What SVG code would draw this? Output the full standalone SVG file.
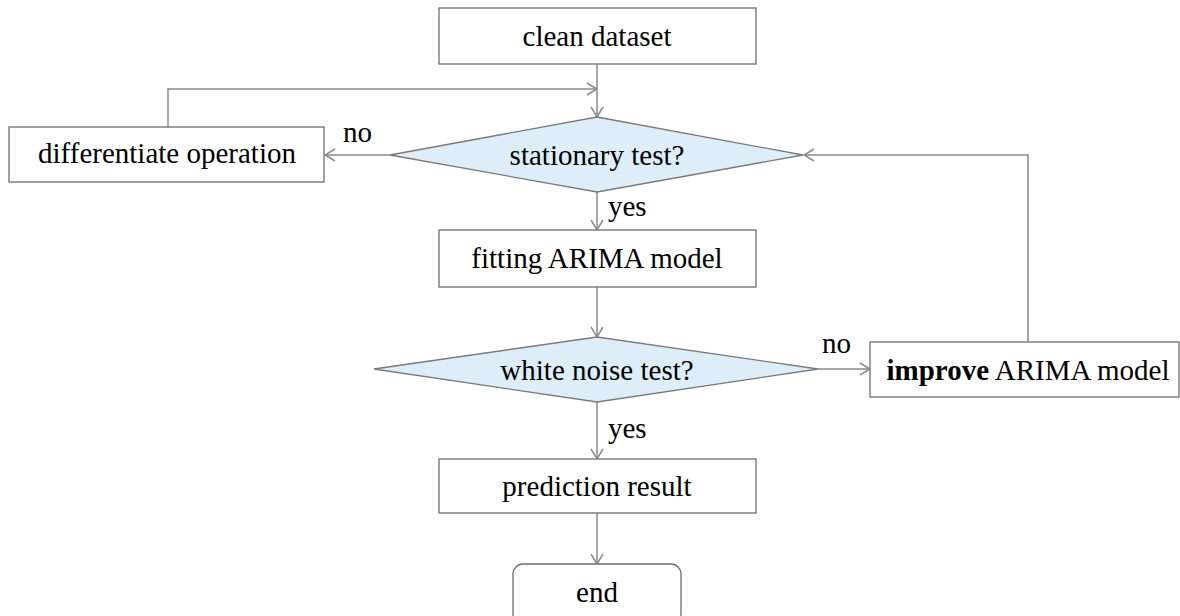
<svg xmlns="http://www.w3.org/2000/svg" width="1180" height="616" viewBox="0 0 1180 616">
<defs>
<style>
.box{fill:#fff;stroke:#6e6e6e;stroke-width:1.3}
.dia{fill:#deeef9;stroke:#7a7a7a;stroke-width:1.3}
.t{font-family:"Liberation Serif","Times New Roman",serif;font-size:29px;fill:#000;text-anchor:middle}
.lbl{font-family:"Liberation Serif","Times New Roman",serif;font-size:29px;fill:#000}
.c{fill:none;stroke:#8a8a8a;stroke-width:1.5;marker-end:url(#arr)}
.cn{fill:none;stroke:#8a8a8a;stroke-width:1.5}
</style>
<marker id="arr" markerWidth="12" markerHeight="14" refX="11" refY="7" orient="auto" markerUnits="userSpaceOnUse">
<path d="M1,1 L11,7 L1,13" fill="none" stroke="#8a8a8a" stroke-width="1.5"/>
</marker>
</defs>
<rect width="1180" height="616" fill="#fff"/>
<g id="connectors">
<path class="c" d="M597,64 V117"/>
<path class="c" d="M168,127 V89 H597"/>
<path class="c" d="M390,155 H325"/>
<path class="c" d="M1028,342 V155 H804"/>
<path class="c" d="M597,192 V230"/>
<path class="c" d="M597,287 V337"/>
<path class="c" d="M818,369 H870"/>
<path class="c" d="M597,402 V459"/>
<path class="c" d="M597,513 V564"/>
</g>
<g id="labels">
<text class="lbl" x="343" y="142">no</text>
<text class="lbl" x="608" y="216">yes</text>
<text class="lbl" x="822" y="353">no</text>
<text class="lbl" x="608" y="438">yes</text>
</g>
<g id="clean">
<rect class="box" x="439" y="8" width="317" height="56"/>
<text class="t" x="597" y="46">clean dataset</text>
</g>
<g id="stationary">
<polygon class="dia" points="597,117 803,155 597,192 390,155"/>
<text class="t" x="597" y="165">stationary test?</text>
</g>
<g id="differentiate">
<rect class="box" x="9" y="127" width="315" height="55"/>
<text class="t" x="167" y="163">differentiate operation</text>
</g>
<g id="fitting">
<rect class="box" x="439" y="230" width="317" height="57"/>
<text class="t" x="597" y="268">fitting ARIMA model</text>
</g>
<g id="whitenoise">
<polygon class="dia" points="597,337 818,369 597,402 374,369"/>
<text class="t" x="597" y="380">white noise test?</text>
</g>
<g id="improve">
<rect class="box" x="870" y="342" width="309" height="55"/>
<text class="t" x="1028" y="380"><tspan font-weight="bold">improve</tspan> ARIMA model</text>
</g>
<g id="prediction">
<rect class="box" x="439" y="459" width="317" height="54"/>
<text class="t" x="597" y="496">prediction result</text>
</g>
<g id="end">
<rect class="box" x="513" y="564" width="168" height="60" rx="10" ry="10"/>
<text class="t" x="597" y="602">end</text>
</g>
</svg>
